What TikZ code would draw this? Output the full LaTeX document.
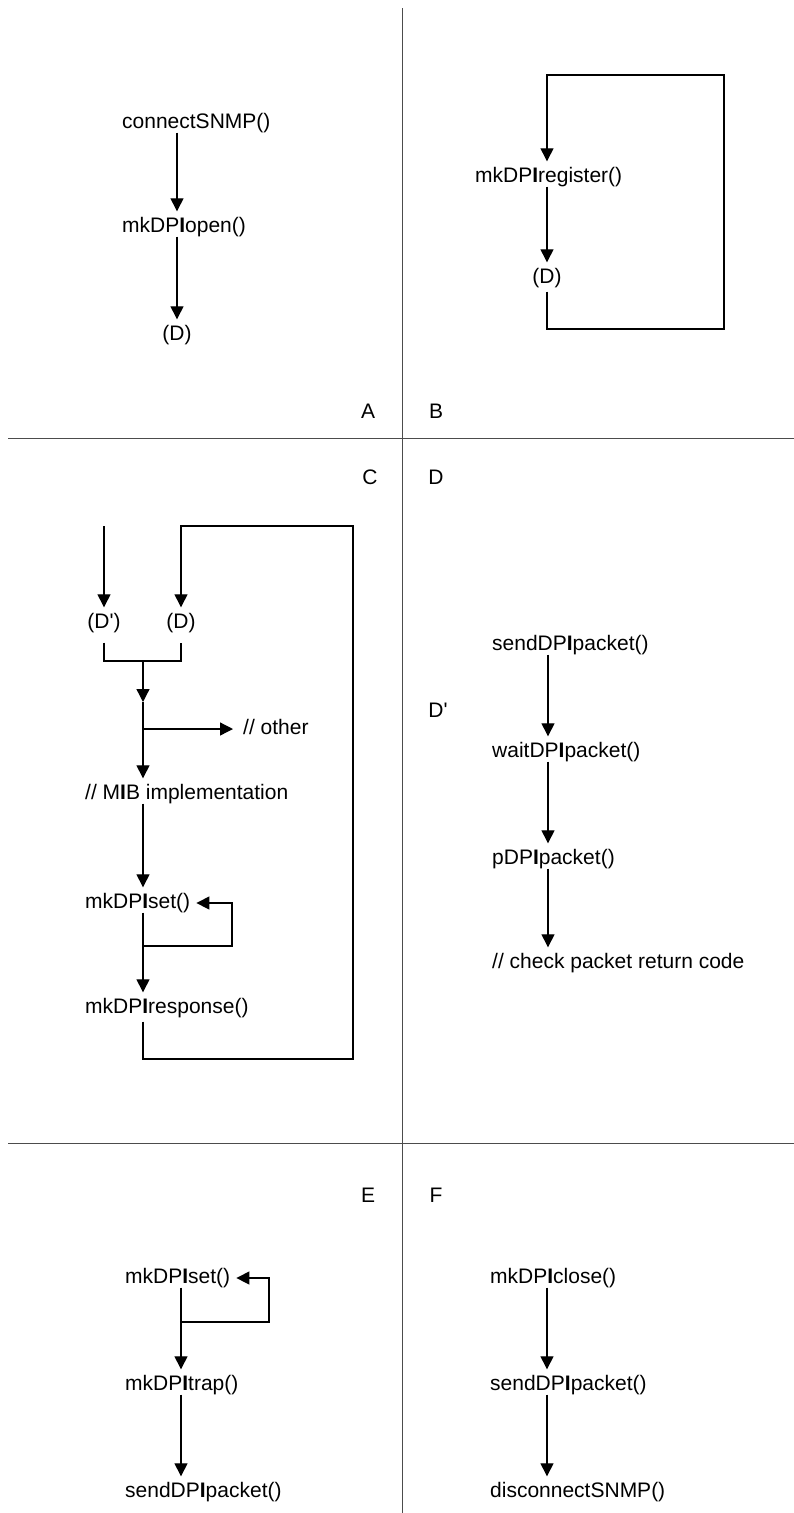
\documentclass[tikz,border=0pt]{standalone}
\usepackage{fontspec}
\setmainfont{Liberation Sans}
\usetikzlibrary{arrows.meta}
\newcommand{\dpi}{DP\textbf{I}}

\begin{document}
\begin{tikzpicture}[x=1pt,y=-1pt,font=\fontsize{21}{25}\selectfont,fn/.style={anchor=west,inner xsep=0pt,inner ysep=0pt,text height=15pt,text depth=4pt},ref/.style={inner sep=0pt,text height=15pt,text depth=4pt},flow/.style={line width=1.3pt,-{Triangle[length=13pt,width=13pt]},shorten >=6pt},link/.style={line width=1.3pt},rule/.style={line width=1pt,black!70}]
\useasboundingbox (0,0) rectangle (794,1513);
\draw[rule] (402,8) -- (402,1513); \draw[rule] (8,438) -- (794,438); \draw[rule] (8,1143) -- (794,1143);
\node[ref] (la) at (368,413){A}; \node[ref] (lb) at (436,413){B}; \node[ref] (lc) at (370,479){C}; \node[ref] (ld) at (436,479){D};
\node[ref] (ldp) at (438,712){D\textquotesingle}; \node[ref] (le) at (368,1197){E}; \node[ref] (lf) at (436,1197){F};
\coordinate (xa) at (177,0);
\node[fn] (conn) at (122,123){connectSNMP()};
\node[fn] (open) at (122,227){mk\dpi open()};
\node[ref] (da) at (177,335){(D)};
\draw[flow] (conn.south -| xa) -- (open.north -| xa); \draw[flow] (open.south -| xa) -- (da.north);
\coordinate (xb) at (547,0);
\node[fn] (reg) at (475,177){mk\dpi register()};
\node[ref] (db) at (547,278){(D)};
\coordinate (btop) at (724,75); \coordinate (bbot) at (724,329);
\draw[flow] (reg.south -| xb) -- (db.north);
\draw[flow,shorten <=4pt] (db.south) |- (bbot) -- (btop) -| (reg.north -| xb);
\coordinate (xc) at (143,0);
\coordinate (cin) at (104,526);
\node[ref] (dpc) at (104,623){(D\textquotesingle)};
\node[ref] (dc) at (181,623){(D)};
\coordinate (join) at (143,661); \coordinate (mid) at (143,702); \coordinate (fork) at (143,729);
\node[fn] (other) at (243,729){// other};
\node[fn] (mib) at (85,794){// M\textbf{I}B implementation};
\node[fn] (setc) at (85,903){mk\dpi set()};
\node[fn] (resp) at (85,1008){mk\dpi response()};
\coordinate (cl) at (143,946); \coordinate (cr) at (232,946);
\coordinate (cbr) at (353,1059); \coordinate (ctr) at (353,526);
\draw[flow] (cin) -- (dpc.north);
\draw[link,shorten <=10pt,shorten >=10pt] (dpc.south) |- (join) -| (dc.south);
\draw[flow,shorten >=0pt] (join) -- (mid); \draw[flow] (mid) -- (mib.north -| xc);
\draw[flow,shorten >=10pt] (fork) -- (other.west);
\draw[flow] (mib.south -| xc) -- (setc.north -| xc); \draw[flow] (setc.south -| xc) -- (resp.north -| xc);
\draw[flow] (cl) -- (cr) |- (setc.east);
\draw[flow,shorten <=4pt] (resp.south -| xc) |- (cbr) -- (ctr) -| (dc.north);
\coordinate (xd) at (548,0);
\node[fn] (send) at (492,645){send\dpi packet()};
\node[fn] (wait) at (492,752){wait\dpi packet()};
\node[fn] (pdpi) at (492,859){p\dpi packet()};
\node[fn] (check) at (492,963){// check packet return code};
\foreach \a/\b in {send/wait,wait/pdpi,pdpi/check} \draw[flow] (\a.south -| xd) -- (\b.north -| xd);
\coordinate (xe) at (181,0);
\node[fn] (sete) at (125,1278){mk\dpi set()};
\node[fn] (trap) at (125,1385){mk\dpi trap()};
\node[fn] (sende) at (125,1492){send\dpi packet()};
\coordinate (el) at (181,1322); \coordinate (er) at (269,1322);
\draw[flow] (el) -- (er) |- (sete.east);
\foreach \a/\b in {sete/trap,trap/sende} \draw[flow] (\a.south -| xe) -- (\b.north -| xe);
\coordinate (xf) at (547,0);
\node[fn] (close) at (490,1278){mk\dpi close()};
\node[fn] (sendf) at (490,1385){send\dpi packet()};
\node[fn] (disc) at (490,1492){disconnectSNMP()};
\foreach \a/\b in {close/sendf,sendf/disc} \draw[flow] (\a.south -| xf) -- (\b.north -| xf);
\end{tikzpicture}
\end{document}
